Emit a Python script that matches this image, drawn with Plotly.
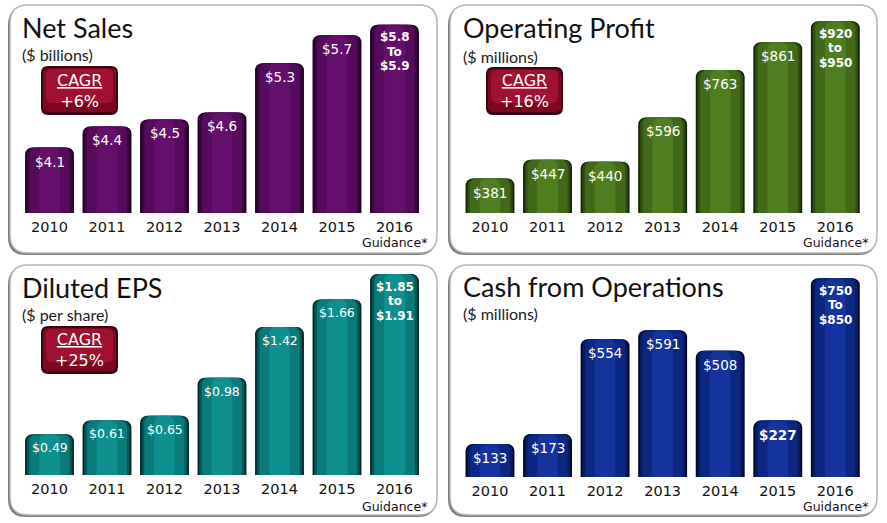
import plotly.graph_objects as go

W, H = 887, 523

# ---------------- data ----------------
years = ["2010", "2011", "2012", "2013", "2014", "2015", "2016"]
net_sales = [4.1, 4.4, 4.5, 4.6, 5.3, 5.7]
net_sales_2016 = [5.8, 5.9]
op_profit = [381, 447, 440, 596, 763, 861]
op_profit_2016 = [920, 950]
eps = [0.49, 0.61, 0.65, 0.98, 1.42, 1.66]
eps_2016 = [1.85, 1.91]
cash_ops = [133, 173, 554, 591, 508, 227]
cash_ops_2016 = [750, 850]

panels = [
    dict(title="Net Sales", sub="($ billions)", vals=net_sales, guide=net_sales_2016,
         fmt="${:.1f}", joiner="To", cagr="+6%", bold=[], lsize=13.5,
         colors=("#1e0020", "#3c0442", "#560a5c", "#650f6c"),
         box=(10, 5, 437, 253), xdom=(20.75, 423.25), ydom=(10, 213), yr=(3.167, 6.059),
         cbox=(41, 66, 118, 115), tpos=(21, 28), spos=(21, 55), guid_y=242),
    dict(title="Operating Profit", sub="($ millions)", vals=op_profit, guide=op_profit_2016,
         fmt="${:.0f}", joiner="to", cagr="+16%", bold=[], lsize=13.5,
         colors=("#142406", "#2e4c10", "#416a18", "#4f7e20"),
         box=(450, 5, 877, 253), xdom=(461.2, 864.1), ydom=(10, 213), yr=(259.7, 974.5),
         cbox=(486, 67, 563, 115), tpos=(462, 28), spos=(462, 56), guid_y=242),
    dict(title="Diluted EPS", sub="($ per share)", vals=eps, guide=eps_2016,
         fmt="${:.2f}", joiner="to", cagr="+25%", bold=[], lsize=12.5,
         colors=("#002828", "#035656", "#0a7a7a", "#0f9090"),
         box=(10, 265, 437, 515), xdom=(20.75, 423.25), ydom=(268, 475), yr=(0.136, 1.933),
         cbox=(41, 326, 118, 374), tpos=(21, 287), spos=(21, 314), guid_y=506),
    dict(title="Cash from Operations", sub="($ millions)", vals=cash_ops, guide=cash_ops_2016,
         fmt="${:.0f}", joiner="To", cagr=None, bold=[5], lsize=13.5,
         colors=("#01062a", "#061a5e", "#0c2782", "#14339c"),
         box=(450, 265, 877, 515), xdom=(461.2, 864.1), ydom=(268, 477), yr=(0, 841),
         cbox=None, tpos=(462, 286), spos=(462, 313), guid_y=506),
]


def px(x):
    return x / W


def py(y):
    return 1 - y / H


def rrect(x0, y0, x1, y1, r):
    return (f"M {px(x0 + r)},{py(y0)} L {px(x1 - r)},{py(y0)} "
            f"Q {px(x1)},{py(y0)} {px(x1)},{py(y0 + r)} L {px(x1)},{py(y1 - r)} "
            f"Q {px(x1)},{py(y1)} {px(x1 - r)},{py(y1)} L {px(x0 + r)},{py(y1)} "
            f"Q {px(x0)},{py(y1)} {px(x0)},{py(y1 - r)} L {px(x0)},{py(y0 + r)} "
            f"Q {px(x0)},{py(y0)} {px(x0 + r)},{py(y0)} Z")


fig = go.Figure()
shapes = []
annotations = []
layout_axes = {}
xpos = list(range(len(years)))

for i, p in enumerate(panels):
    n = i + 1
    xa = "x" if n == 1 else f"x{n}"
    ya = "y" if n == 1 else f"y{n}"
    lo, hi = p["guide"]
    values = p["vals"] + [(lo + hi) / 2]
    c_edge, c_dark, c_main, c_core = p["colors"]

    for width, col in [(0.85, c_edge), (0.79, c_dark), (0.70, c_main), (0.36, c_core)]:
        fig.add_trace(go.Bar(
            x=xpos, y=values, width=width, xaxis=xa, yaxis=ya,
            marker=dict(color=col, line=dict(width=0), cornerradius=7),
            hoverinfo="skip", showlegend=False))

    layout_axes["xaxis" if n == 1 else f"xaxis{n}"] = dict(
        domain=[px(p["xdom"][0]), px(p["xdom"][1])], anchor=ya,
        range=[-0.5, 6.5], showgrid=False, zeroline=False,
        tickmode="array", tickvals=xpos, ticktext=years, ticklabelstandoff=3,
        showline=False, ticks="", tickfont=dict(family="DejaVu Sans", size=14.5, color="#111"),
        fixedrange=True)
    layout_axes["yaxis" if n == 1 else f"yaxis{n}"] = dict(
        domain=[py(p["ydom"][1]), py(p["ydom"][0])], anchor=xa,
        range=list(p["yr"]), visible=False, fixedrange=True)

    # panel frame with shadow
    bx0, by0, bx1, by1 = p["box"]
    shapes.append(dict(type="path", xref="paper", yref="paper", layer="below",
                       path=rrect(bx0 - 2, by0 + 2, bx1 - 1, by1 + 2, 18),
                       fillcolor="#7a7a7a", line=dict(width=0)))
    shapes.append(dict(type="path", xref="paper", yref="paper", layer="below",
                       path=rrect(bx0, by0, bx1, by1, 18),
                       fillcolor="#ffffff", line=dict(color="#b4b4b4", width=1.5)))

    # titles
    annotations.append(dict(xref="paper", yref="paper", x=px(p["tpos"][0]), y=py(p["tpos"][1]),
                            xanchor="left", yanchor="middle", showarrow=False, text=p["title"],
                            borderpad=0, font=dict(family="Lato", size=27, color="#111")))
    annotations.append(dict(xref="paper", yref="paper", x=px(p["spos"][0]), y=py(p["spos"][1]),
                            xanchor="left", yanchor="middle", showarrow=False, text=p["sub"],
                            borderpad=0, font=dict(family="Lato", size=16, color="#222")))

    # CAGR box
    if p["cbox"]:
        cx0, cy0, cx1, cy1 = p["cbox"]
        shapes.append(dict(type="path", xref="paper", yref="paper", layer="below",
                           path=rrect(cx0, cy0, cx1, cy1, 7),
                           fillcolor="#3c0610", line=dict(width=0)))
        shapes.append(dict(type="path", xref="paper", yref="paper", layer="below",
                           path=rrect(cx0 + 2, cy0 + 2, cx1 - 2, cy1 - 3, 6),
                           fillcolor="#7c0820", line=dict(width=0)))
        shapes.append(dict(type="path", xref="paper", yref="paper", layer="below",
                           path=rrect(cx0 + 5, cy0 + 3, cx1 - 5, cy1 - 12, 6),
                           fillcolor="#a01030", line=dict(width=0)))
        annotations.append(dict(xref="paper", yref="paper", x=px((cx0 + cx1) / 2),
                                y=py((cy0 + cy1) / 2), xanchor="center", yanchor="middle",
                                showarrow=False, text=f"<u>CAGR</u><br>{p['cagr']}",
                                font=dict(family="DejaVu Sans", size=16, color="white")))

    # value labels
    for j, v in enumerate(p["vals"]):
        txt = p["fmt"].format(v)
        if j in p["bold"]:
            txt = f"<b>{txt}</b>"
        annotations.append(dict(xref=xa, yref=ya, x=xpos[j], y=v, yanchor="top",
                                yshift=-4, showarrow=False, text=txt,
                                font=dict(family="DejaVu Sans", size=p["lsize"], color="white")))
    for k, t in enumerate([p["fmt"].format(lo), p["joiner"], p["fmt"].format(hi)]):
        annotations.append(dict(xref=xa, yref=ya, x=xpos[6], y=values[6], yanchor="top",
                                yshift=-3.5 - 14.5 * k, showarrow=False, text=f"<b>{t}</b>",
                                font=dict(family="DejaVu Sans", size=12, color="white")))

    # Guidance* note
    annotations.append(dict(xref=xa, yref="paper", x=xpos[6], y=py(p["guid_y"]),
                            xanchor="center", yanchor="middle", showarrow=False,
                            text="Guidance*", borderpad=0,
                            font=dict(family="DejaVu Sans", size=12.5, color="#111")))

fig.update_layout(
    width=W, height=H, margin=dict(l=0, r=0, t=0, b=0),
    paper_bgcolor="white", plot_bgcolor="rgba(0,0,0,0)",
    barmode="overlay", shapes=shapes, annotations=annotations, **layout_axes)

fig.write_html("out.html")
